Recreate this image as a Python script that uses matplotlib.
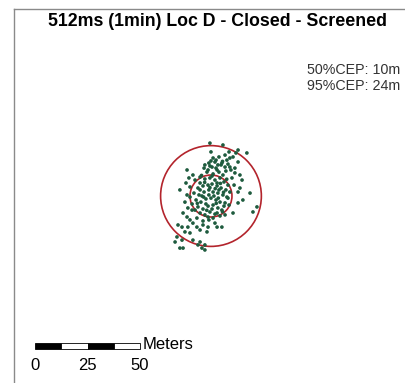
import matplotlib
matplotlib.use("Agg")
import matplotlib.pyplot as plt
from matplotlib.patches import Circle, Rectangle
from matplotlib.lines import Line2D

plt.rcParams['font.family'] = ['Liberation Sans', 'DejaVu Sans']

title = "512ms (1min) Loc D - Closed - Screened"
cep50 = 10
cep95 = 24

# position fixes, offsets from mean position in meters (east, north)
east = [
    -0.5, 5.7, 8.6, 11.9, 17.1, 0.0, 1.9, 3.3, 5.2, 7.6, 9.0, 0.5, -1.4, 2.9, 6.7, 9.0, 12.9,
    -11.4, -8.6, -5.2, 11.4, 13.8, 14.8, -14.8, -10.0, 18.6, 12.9, 13.8, 21.9, 20.0, -12.4,
    -11.4, 12.9, 15.2, 10.5, 6.7, 2.9, 1.0, -1.4, -13.3, -11.4, -10.0, -8.6, -15.7, -13.8,
    -11.0, -6.7, -3.8, -1.4, 2.9, 5.2, -5.2, -1.9, -12.4, -10.0, -16.2, -13.8, -8.6, -5.2,
    -6.2, -2.9, -14.8, -13.3, -4.3, -2.9, -17.1, 1.9,
    -7.6, -5.2, -2.9, -0.5, 1.9, 4.3, 6.2, 8.1, -6.2, -3.8, -1.4, 0.5, 2.9, 4.8, 7.1, 9.0,
    -8.1, -5.7, -3.3, -1.0, 1.0, 3.3, 5.7, 7.6, -7.1, -4.8, -2.4, 0.0, 2.4, 4.3, 6.7, 8.6,
    -6.2, -3.8, -1.4, 1.0, 3.3, 5.2, -5.2, -2.9, -0.5, 1.9, 4.3, -9.0, -10.0, -7.6, -1.9,
    1.0, 3.8, 5.7, -0.5, 2.4, -3.3, 4.8, 7.1, 10.0, 11.0, -11.9, -10.5, -4.3, 1.4, 3.8,
    -2.4, 0.5, 6.2, 2.9, -5.2, 8.1, -9.0, -1.0, -3.8, -6.7, -11.0,
    1.0, 3.8, 6.7, 10.5, -1.0, 2.4, 5.5, 8.1, -2.9, 11.4, 9.5, 0.0, 12.9,
    -1.0, 2.0, -3.0, 4.5, -2.0, 3.5, 6.0, -6.5, 0.5, -4.5, 7.5, 5.5, -0.5, 2.5, -3.5,
]
north = [
    25.2, 24.3, 21.0, 20.5, 20.5, 16.7, 16.2, 14.8, 15.7, 17.1, 18.1, 13.8, 12.4, 12.4, 13.8, 13.8, 16.2,
    12.4, 10.0, 9.0, 11.0, 10.0, 7.6, 2.9, 4.3, 1.4, 1.9, 3.8, -5.2, -7.6, -2.9,
    0.5, -3.3, -1.9, -8.1, -9.0, -8.1, -10.5, -10.0, -8.1, -10.0, -11.4, -12.9, -13.8, -14.8,
    -14.8, -14.8, -13.8, -14.8, -14.8, -14.8, -16.2, -17.1, -17.1, -17.6, -19.5, -21.0, -21.0, -21.9,
    -23.3, -23.3, -24.8, -24.8, -24.8, -25.7, -21.9, -12.9,
    7.6, 6.2, 8.1, 8.6, 7.6, 8.6, 6.7, 5.2, 3.8, 4.8, 5.2, 5.7, 4.8, 3.8, 2.9, 1.9,
    1.4, 0.5, 1.9, 2.9, 1.9, 1.4, 0.5, -0.5, -1.9, -2.9, -1.4, -1.0, -1.9, -2.9, -3.3, -4.3,
    -5.2, -6.2, -4.8, -4.3, -5.7, -6.7, -8.1, -9.0, -7.6, -8.6, -9.5, -3.8, -0.5, -6.7, 11.4,
    10.5, 11.4, 10.0, 14.3, 13.3, 13.3, 14.8, 11.9, 8.6, 5.2, 6.2, 8.6, 0.0, 0.0, 2.9,
    -3.8, -6.2, -4.8, 6.2, 2.9, -1.0, -6.7, -11.4, -11.9, -10.5, -5.7,
    18.1, 18.6, 19.5, 18.6, 15.7, 17.1, 16.5, 15.2, 14.8, 13.3, 12.4, 21.0, 21.9,
    0.5, 3.5, 6.5, 6.0, -6.8, -1.0, 1.8, -3.5, 9.5, 9.8, 8.0, -7.5, 4.0, -3.5, -0.5,
]

scale_ticks = [0, 25, 50]
scale_segments = [0, 12.5, 25, 37.5]
scale_colors = ['black', 'white', 'black', 'white']

fig = plt.figure(figsize=(4.06, 3.83), dpi=100)
ax = fig.add_axes([0, 0, 1, 1])
ax.set_xlim(-100.5, 92.9)
ax.set_ylim(-89.0, 93.3)
ax.set_aspect('equal')
ax.axis('off')

ax.scatter(east, north, s=7, color='#1e5b3e', edgecolors='none', zorder=3)
for r in [cep50, cep95]:
    ax.add_patch(Circle((0, 0), r, fill=False, ec='#b3242c', lw=1.2, zorder=2))

# scale bar
x0, y0, h = -83.8, -72.8, 2.9
for s, c in zip(scale_segments, scale_colors):
    ax.add_patch(Rectangle((x0 + s, y0), 12.5, h, fc=c, ec='black', lw=0.6))
for t in scale_ticks:
    ax.text(x0 + t, -80.5, str(t), ha='center', va='center', fontsize=12)
ax.text(x0 + 51.3, y0 + h / 2 + 0.6, "Meters", ha='left', va='center', fontsize=12)

ax.text(0.535, 0.943, title, transform=ax.transAxes, ha='center', va='center',
        fontsize=12.8, fontweight='bold')
ax.text(0.985, 0.817, f"50%CEP: {cep50}m", transform=ax.transAxes, ha='right',
        va='center', fontsize=10.3, color='#333333')
ax.text(0.985, 0.775, f"95%CEP: {cep95}m", transform=ax.transAxes, ha='right',
        va='center', fontsize=10.3, color='#333333')

# map frame
fig.add_artist(Line2D([14 / 406, 14 / 406], [0, 1 - 9 / 383], color='#8a8a8a', lw=1))
fig.add_artist(Line2D([14 / 406, 1], [1 - 9 / 383, 1 - 9 / 383], color='#8a8a8a', lw=1))

fig.savefig('out.png', dpi=100)
